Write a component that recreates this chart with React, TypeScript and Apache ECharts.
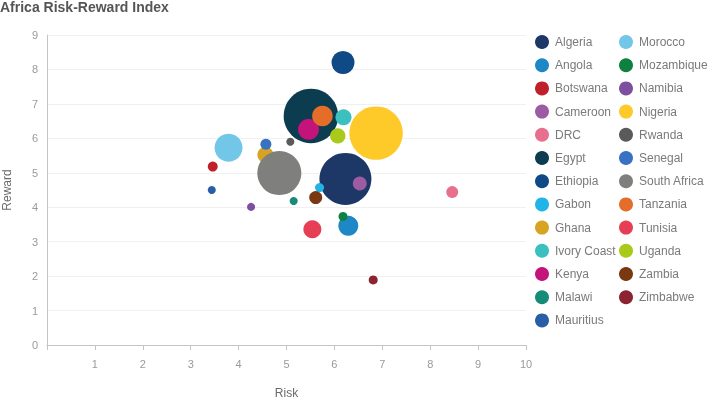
import React, { useEffect, useRef } from "react";
import * as echarts from "echarts";

const countries = [
  "Algeria", "Angola", "Botswana", "Cameroon", "DRC", "Egypt", "Ethiopia",
  "Gabon", "Ghana", "Ivory Coast", "Kenya", "Malawi", "Mauritius",
  "Morocco", "Mozambique", "Namibia", "Nigeria", "Rwanda", "Senegal",
  "South Africa", "Tanzania", "Tunisia", "Uganda", "Zambia", "Zimbabwe",
];
const risk = [
  6.23, 6.29, 3.46, 6.53, 8.46, 5.51, 6.18,
  5.69, 4.56, 6.19, 5.46, 5.15, 3.44,
  3.79, 6.18, 4.26, 6.87, 5.08, 4.57,
  4.85, 5.75, 5.54, 6.07, 5.61, 6.81,
];
const reward = [
  4.82, 3.46, 5.18, 4.69, 4.44, 6.65, 8.2,
  4.57, 5.52, 6.61, 6.26, 4.18, 4.5,
  5.73, 3.73, 4.01, 6.15, 5.9, 5.83,
  4.99, 6.65, 3.36, 6.07, 4.28, 1.89,
];
const weight = [
  92.7, 13.7, 3.4, 6.7, 4.9, 102, 18.1,
  2.8, 8.8, 8.8, 15.1, 2.2, 2.2,
  26.9, 2.8, 2.2, 97.8, 2.2, 4.1,
  66.4, 14.6, 11.1, 8.1, 5.8, 2.8,
];
const palette = [
  "#1d3767", "#1e88c7", "#c0202a", "#9c5ba3", "#e8708f", "#0c3c4f", "#0f4a86",
  "#20b5e6", "#d6a420", "#3bbfbf", "#c4137b", "#168b78", "#295ea6",
  "#72c6e8", "#0e8040", "#7d4f9e", "#fdca2a", "#5a5a5a", "#3872c0",
  "#7f7f7d", "#e46d2a", "#e63e55", "#a9c91b", "#7a3812", "#8c2330",
];
const xTicks = [0, 10, 1];
const yTicks = [0, 9, 1];

const FONT = "Liberation Sans, Arial, sans-serif";

export default function App() {
  const ref = useRef<HTMLDivElement>(null);
  useEffect(() => {
    if (!ref.current) return;
    const chart = echarts.init(ref.current, null, { renderer: "svg" });
    const legendText = { color: "#7a7a7a", fontSize: 12, fontFamily: FONT };
    const legendBase = {
      orient: "vertical",
      top: 35,
      itemWidth: 16,
      itemHeight: 14,
      itemGap: 9.2,
      icon: "circle",
      padding: 0,
      textStyle: legendText,
      selectedMode: false,
    };
    chart.setOption({
      animation: false,
      textStyle: { fontFamily: FONT },
      title: {
        text: "Africa Risk-Reward Index",
        left: 0,
        top: 0,
        padding: 0,
        textStyle: { fontSize: 14, fontWeight: "bold", color: "#555", fontFamily: FONT },
      },
      legend: [
        { ...legendBase, left: 535, data: countries.slice(0, 13) },
        { ...legendBase, left: 619, data: countries.slice(13) },
      ],
      grid: {
        left: 47,
        right: 184,
        top: 35,
        bottom: 54,
        containLabel: false,
        outerBoundsMode: "none",
      },
      xAxis: {
        type: "value",
        min: xTicks[0],
        max: xTicks[1],
        interval: xTicks[2],
        name: "Risk",
        nameLocation: "middle",
        nameGap: 42,
        nameTextStyle: { color: "#6a6a6a", fontSize: 12, fontFamily: FONT },
        axisLine: { show: true, lineStyle: { color: "#c4c4c4" } },
        axisTick: { show: true, length: 5, lineStyle: { color: "#c4c4c4" } },
        axisLabel: {
          color: "#9a9a9a",
          fontSize: 11,
          margin: 13,
          formatter: (v: number) => (v === 0 ? "" : String(v)),
        },
        splitLine: { show: false },
      },
      yAxis: {
        type: "value",
        min: yTicks[0],
        max: yTicks[1],
        interval: yTicks[2],
        name: "Reward",
        nameLocation: "middle",
        nameGap: 34,
        nameTextStyle: { color: "#6a6a6a", fontSize: 12, fontFamily: FONT },
        axisLine: { show: true, lineStyle: { color: "#c4c4c4" } },
        axisTick: { show: false },
        axisLabel: { color: "#9a9a9a", fontSize: 11, margin: 9 },
        splitLine: { show: true, lineStyle: { color: "#f0f0f0" } },
      },
      series: countries.map((name, i) => ({
        name,
        type: "scatter",
        data: [[risk[i], reward[i], weight[i]]],
        symbolSize: (v: number[]) => Math.sqrt(v[2]) * 5.4,
        itemStyle: { color: palette[i], opacity: 1 },
        emphasis: { disabled: true },
      })),
    });
    return () => chart.dispose();
  }, []);
  return (
    <div
      ref={ref}
      style={{ position: "fixed", left: 0, top: 0, width: 710, height: 399 }}
    />
  );
}
